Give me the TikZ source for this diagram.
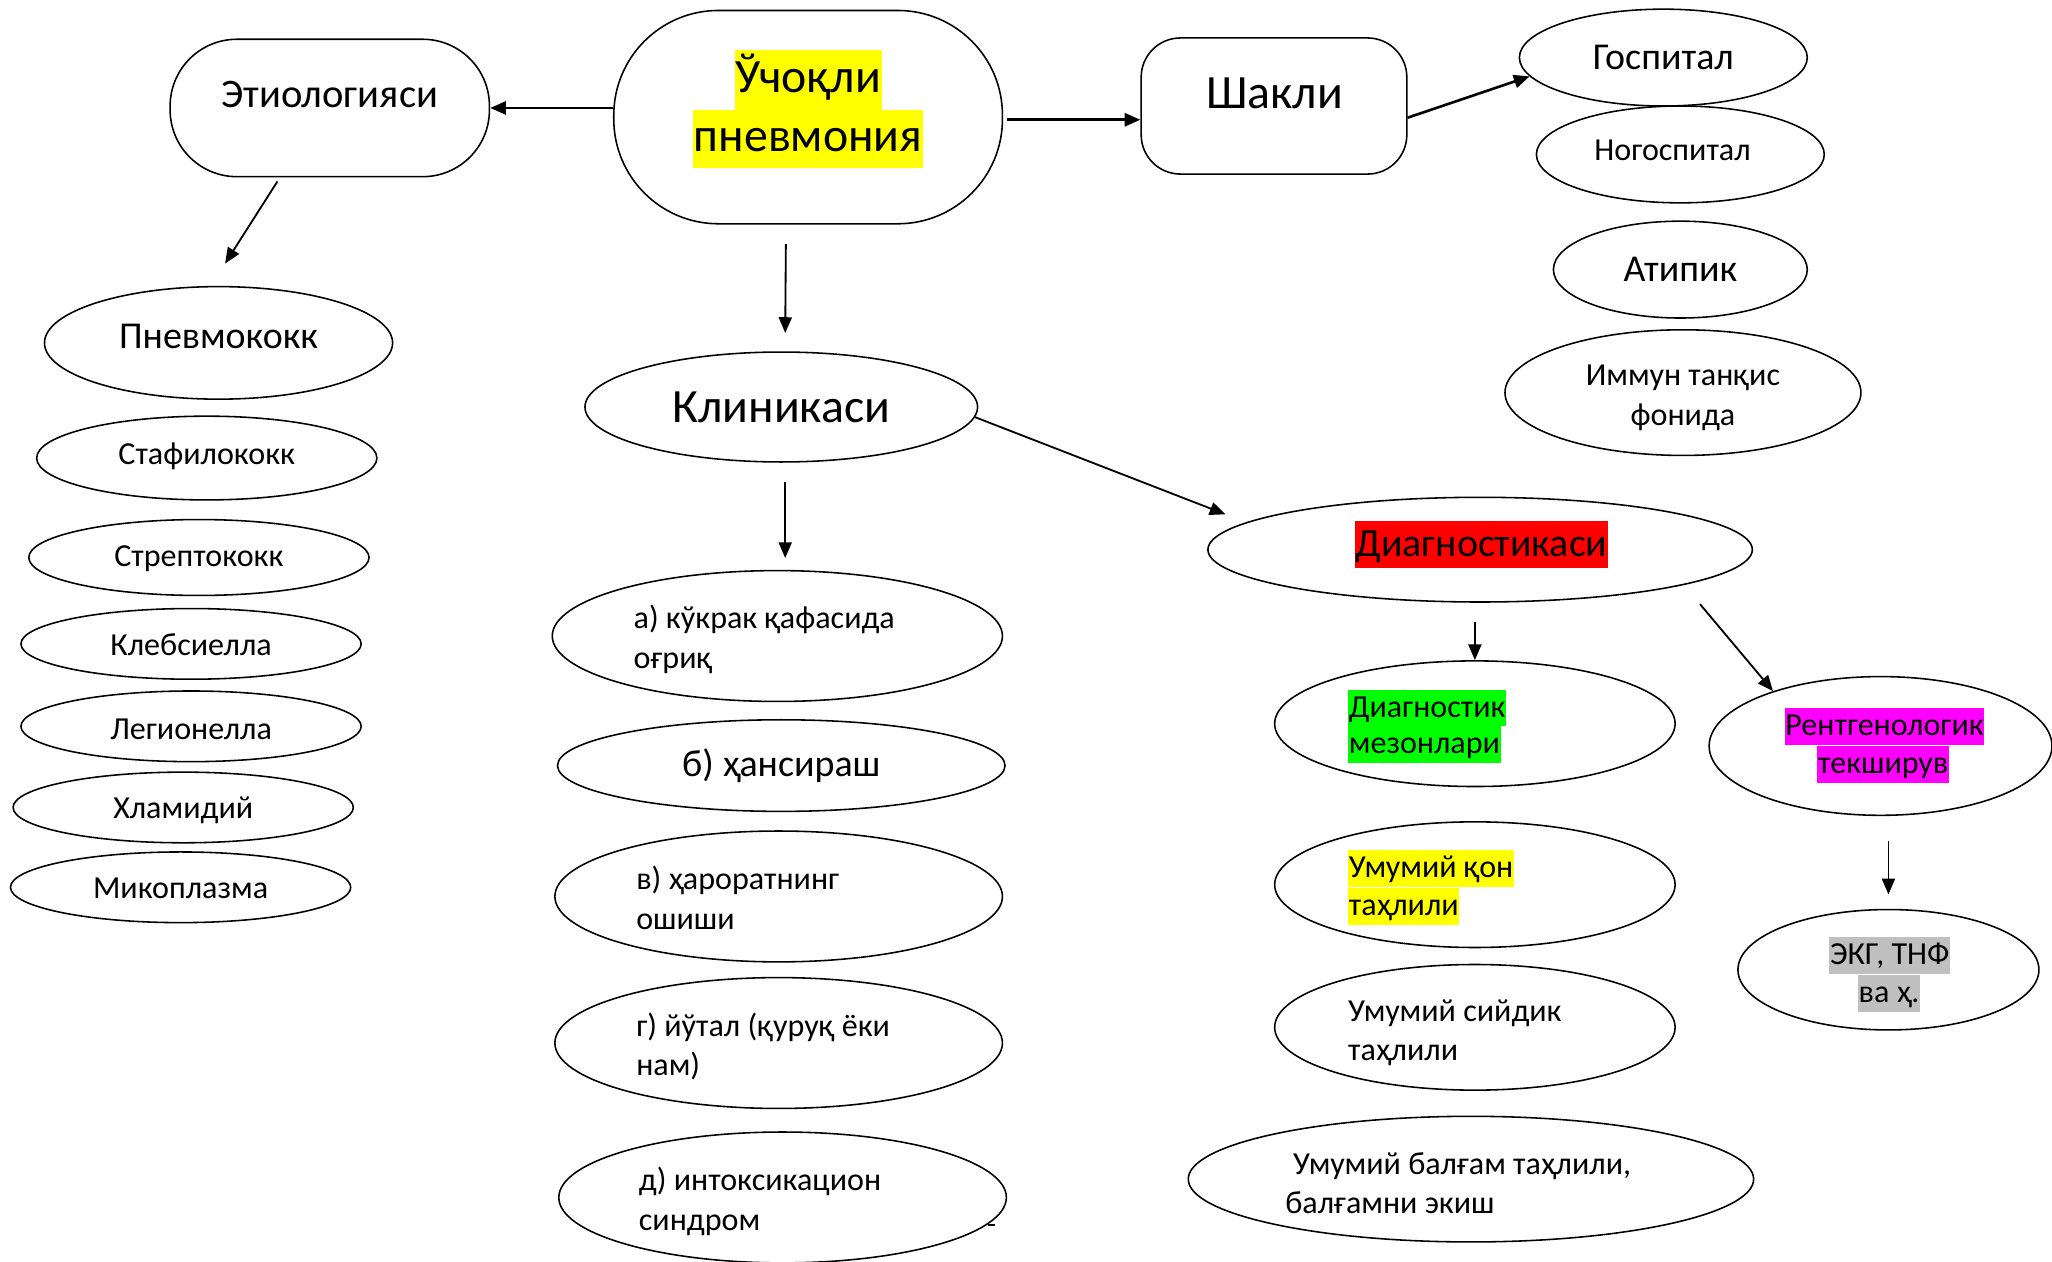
\documentclass[tikz,border=0pt]{standalone}
\usepackage{fontspec}
\setmainfont{Carlito}
\usetikzlibrary{shapes.geometric,arrows.meta,calc}
\definecolor{hlyel}{RGB}{255,255,0}
\definecolor{hlred}{RGB}{255,0,0}
\definecolor{hlgrn}{RGB}{0,255,0}
\definecolor{hlmag}{RGB}{255,0,255}
\definecolor{hlgry}{RGB}{192,192,192}
\begin{document}
\begin{tikzpicture}[x=1pt,y=-1pt,
  ell/.style={draw, ellipse, line width=1.2pt, inner sep=0pt},
  rbox/.style={draw, rectangle, line width=1.2pt, inner sep=0pt},
  lbl/.style={inner sep=0pt},
  hlline/.style={inner xsep=0.5pt, inner ysep=0pt},
  hs/.style={text height=21pt, text depth=7pt},
  arr/.style={-{Triangle[length=12pt,width=10pt]}, line width=1.4pt},
  thickarr/.style={-{Triangle[length=12pt,width=10pt]}, line width=2pt},
  fA/.style={font=\fontsize{24.5}{30}\selectfont},
  fB/.style={font=\fontsize{29}{34}\selectfont},
  fC/.style={font=\fontsize{36.5}{42}\selectfont}
]
\useasboundingbox (0,0) rectangle (1568,964);
% top row
\node[rbox, rounded corners=51pt, minimum width=244pt, minimum height=105pt] (etio) at (252,82.5) {};
\node[lbl, font=\fontsize{31}{36}\selectfont] (etioT) at (252,72) {Этиологияси};
\node[rbox, rounded corners=80pt, minimum width=297pt, minimum height=163pt] (uch) at (617.5,89.5) {};
\node[hlline, fill=hlyel, text height=33pt, text depth=13pt, fC] (uch1) at (617.5,61) {Ўчоқли};
\node[hlline, fill=hlyel, text height=32pt, text depth=12pt, fC] (uch2) at (617.5,106) {пневмония};
\node[rbox, rounded corners=30pt, minimum width=203pt, minimum height=104pt] (shakl) at (973.5,81) {};
\node[lbl, fC] (shaklT) at (974,71) {Шакли};
% forms
\node[ell, minimum width=220pt, minimum height=74pt] (gosp) at (1271,44) {};
\node[lbl, fB] (gospT) at (1271,44) {Госпитал};
\node[ell, minimum width=220pt, minimum height=74pt] (nogosp) at (1284,118) {};
\node[lbl, fA] (nogospT) at (1278,115) {Ногоспитал};
\node[ell, minimum width=194pt, minimum height=74pt] (atip) at (1284,206) {};
\node[lbl, fB] (atipT) at (1284,206) {Атипик};
\node[ell, minimum width=272pt, minimum height=96pt] (immun) at (1286,300) {};
\node[lbl, fA, align=center] (immunT) at (1286,304) {Иммун танқис\\фонида};
% etiology
\node[ell, minimum width=266pt, minimum height=86pt] (pnevmo) at (167,262) {};
\node[lbl, fB] (pnevmoT) at (167,257) {Пневмококк};
\node[ell, minimum width=260pt, minimum height=64pt] (staf) at (158,350) {};
\node[lbl, fA] (stafT) at (158,349) {Стафилококк};
\node[ell, minimum width=260pt, minimum height=58pt] (strep) at (152,426) {};
\node[lbl, fA] (strepT) at (152,427) {Стрептококк};
\node[ell, minimum width=260pt, minimum height=54pt] (kleb) at (146,492) {};
\node[lbl, fA] (klebT) at (146,493) {Клебсиелла};
\node[ell, minimum width=260pt, minimum height=54pt] (leg) at (146,555) {};
\node[lbl, fA] (legT) at (146,557) {Легионелла};
\node[ell, minimum width=260pt, minimum height=54pt] (xlam) at (140,617) {};
\node[lbl, fA] (xlamT) at (140,619) {Хламидий};
\node[ell, minimum width=260pt, minimum height=54pt] (miko) at (138,678) {};
\node[lbl, fA] (mikoT) at (138,679) {Микоплазма};
% clinic
\node[ell, minimum width=300pt, minimum height=84pt] (klin) at (597,311) {};
\node[lbl, fC] (klinT) at (597,311) {Клиникаси};
\node[ell, minimum width=344pt, minimum height=100pt] (ca) at (594,486) {};
\node[lbl, fA, align=left, anchor=west] (caT) at (484,488.5) {а) кўкрак қафасида\\оғриқ};
\node[ell, minimum width=342pt, minimum height=70pt] (cb) at (597,585) {};
\node[lbl, fB] (cbT) at (597,585) {б) ҳансираш};
\node[ell, minimum width=342pt, minimum height=100pt] (cv) at (595,685) {};
\node[lbl, fA, align=left, anchor=west] (cvT) at (486,686) {в) ҳароратнинг\\ошиши};
\node[ell, minimum width=342pt, minimum height=100pt] (cg) at (595,797) {};
\node[lbl, fA, align=left, anchor=west] (cgT) at (486,799.5) {г) йўтал (қуруқ ёки\\нам)};
\node[ell, minimum width=342pt, minimum height=100pt] (cd) at (598,915) {};
\node[lbl, fA, align=left, anchor=west] (cdT) at (488,918) {д) интоксикацион\\синдром};
\draw[line width=1pt] (755,936) -- (760,936);
% diagnostics
\node[ell, minimum width=416pt, minimum height=80pt] (diag) at (1131,420) {};
\node[hlline, fill=hlred, text height=27pt, text depth=9pt, font=\fontsize{30.5}{36}\selectfont] (diagT) at (1132,416) {Диагностикаси};
\node[ell, minimum width=306pt, minimum height=96pt] (mez) at (1127,553) {};
\node[hlline, hs, fill=hlgrn, anchor=west, fA] (mez1) at (1030,541) {Диагностик};
\node[hlline, hs, fill=hlgrn, anchor=west, fA] (mez2) at (1030,569) {мезонлари};
\node[ell, minimum width=306pt, minimum height=96pt] (qon) at (1127,676) {};
\node[hlline, hs, fill=hlyel, anchor=west, fA] (qon1) at (1030,663.5) {Умумий қон};
\node[hlline, hs, fill=hlyel, anchor=west, fA] (qon2) at (1030,692.5) {таҳлили};
\node[ell, minimum width=306pt, minimum height=96pt] (siyd) at (1127,785) {};
\node[lbl, fA, align=left, anchor=west] (siydT) at (1030,789) {Умумий сийдик\\таҳлили};
\node[ell, minimum width=432pt, minimum height=96pt] (balg) at (1124,901) {};
\node[lbl, fA, align=left, anchor=west] (balgT) at (982,904) {\hspace{6pt}Умумий балғам таҳлили,\\балғамни экиш};
\node[ell, minimum width=262pt, minimum height=106pt] (rentg) at (1437,570) {};
\node[hlline, hs, fill=hlmag, fA] (rentg1) at (1440,555) {Рентгенологик};
\node[hlline, hs, fill=hlmag, fA] (rentg2) at (1439,584) {текширув};
\node[ell, minimum width=230pt, minimum height=92pt] (ekg) at (1443,741) {};
\node[hlline, hs, fill=hlgry, fA] (ekg1) at (1444,730) {ЭКГ, ТНФ};
\node[hlline, hs, fill=hlgry, fA] (ekg2) at (1443.5,759) {ва ҳ.};
% connectors
\draw[thickarr] (uch.west |- etio.east) -- (etio.east);
\draw[thickarr] ($(uch.east)+(3,2)$) -- ($(uch.east -| shakl.west)+(0,2)$);
\draw[thickarr] (shakl.-5) -- (gosp.188);
\draw[arr] ($(etio.south)+(-40,3)$) -- ($(pnevmo.north)+(5,-17)$);
\draw[arr] ($(uch.south)+(-17,15)$) -- ($(klin.north)+(3,-14)$);
\draw[arr] ($(klin.south)+(3,15)$) -- ($(ca.north)+(6,-9)$);
\draw[arr] (klin.-3.5) -- ($(diag.west)+(14,-27)$);
\draw[arr] ($(diag.south)+(-4,15)$) -- (mez.north);
\draw[arr] ($(diag.south)+(168,1)$) -- (rentg.153);
\draw[arr] ($(rentg.south)+(6,19)$) -- ($(ekg.north)+(0,-11)$);
\end{tikzpicture}
\end{document}
